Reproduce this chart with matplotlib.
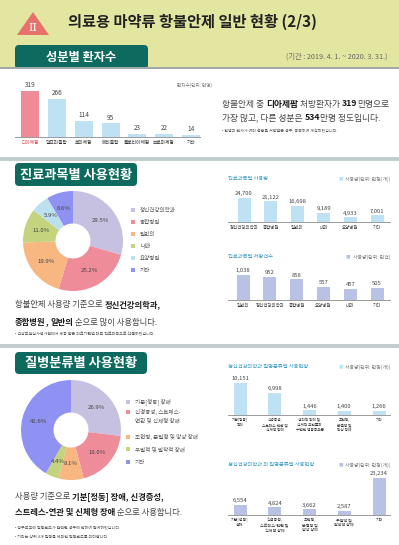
import numpy as np
import matplotlib
matplotlib.use("Agg")
import matplotlib.pyplot as plt
from matplotlib.patches import Rectangle, FancyBboxPatch, Polygon

plt.rcParams['font.family'] = ['Noto Sans CJK KR', 'DejaVu Sans']

# ---- data ----
ingredient_names = ['디아제팜', '알프라졸람', '로라제팜', '에티졸람', '클로티아제팜', '브로마제팜', '기타']
ingredient_patients = [319, 266, 114, 95, 23, 22, 14]

dept_share_labels = ['정신건강의학과', '종합병원', '일반의', '내과', '요양병원', '기타']
dept_share = [29.5, 25.2, 19.9, 11.0, 5.9, 8.6]

dept_usage_names = ['정신건강의학과', '종합병원', '일반의', '내과', '요양병원', '기타']
dept_usage = [24700, 21122, 16698, 9189, 4933, 7001]

dept_rx_names = ['일반의', '정신건강의학과', '종합병원', '요양병원', '내과', '기타']
dept_rx = [1038, 952, 858, 557, 457, 505]

disease_share_labels = ['기분[정동] 장애', '신경증성, 스트레스-\n연관 및 신체형 장애',
                        '조현병, 분열형 및 망상 장애', '우발적 및 발작적 장애', '기타']
disease_share = [26.9, 19.0, 8.1, 4.4, 41.6]

psy_names = ['기분[정동]\n장애', '신경증성,\n스트레스-연관 및\n신체형 장애',
             '생리적 장애 및\n신체적 요인들과\n수반된 행동증후군', '조현병,\n분열형 및\n망상 장애', '기타']
psy_usage = [10151, 6998, 1446, 1400, 1266]

nonpsy_names = ['기분[정동]\n장애', '신경증성,\n스트레스-연관 및\n신체형 장애',
                '조현병,\n분열형 및\n망상 장애', '우발적 및\n발작적 장애', '기타']
nonpsy_usage = [6554, 4824, 3662, 2587, 23234]

# ---- styles ----
W, H = 399, 545
HEADER_BG = '#e3e6a1'
TEAL = '#0e6a5e'
LIGHT_BLUE = '#bfe1f4'
LAVENDER = '#b7c2e4'
PINK = '#ef8b99'
TITLE_BLUE = '#3d9cc6'
donut_colors = ['#c6c1e0', '#ee8c99', '#f8b680', '#c4d37d', '#bde0ef', '#8f92f2']
disease_colors = ['#c6c1e0', '#ee8c99', '#f8b680', '#c4d37d', '#8f92f2']


def px_rect(x, y, w, h):
    return [x / W, 1 - (y + h) / H, w / W, h / H]


def rich(ax, x, y, parts, size, color='#444', bold_color='#1a1a1a'):
    t = None
    for s, b in parts:
        kw = dict(fontsize=size, fontweight='bold' if b else 'normal',
                  color=bold_color if b else color)
        if t is None:
            t = ax.text(x, y, s, ha='left', va='center', **kw)
        else:
            t = ax.annotate(s, xy=(1, 0.5), xycoords=t, ha='left', va='center', **kw)


def tab(ax, x, y, w, h, label, size):
    ax.add_patch(FancyBboxPatch((x, y), w, h, boxstyle='round,pad=0,rounding_size=4',
                                fc=TEAL, ec='none'))
    ax.text(x + w / 2, y + h / 2, label, ha='center', va='center', color='white',
            fontsize=size, fontweight='bold')


def bar_panel(fig, values, names, color, left, right, first, last, base, top,
              bar_px, label_size=3.2, value_size=4.2, label_colors=None):
    n = len(values)
    step = (last - first) / (n - 1)
    head = 12
    ax = fig.add_axes(px_rect(left, top - head, right - left, base - top + head))
    ax.patch.set_alpha(0)
    bars = ax.bar(range(n), values, width=bar_px / step, color=color)
    ax.set_xlim((left - first) / step, (right - first) / step)
    ax.set_ylim(0, max(values) * (base - top + head) / (base - top))
    ax.bar_label(bars, labels=[f'{v:,}' for v in values], padding=1.2,
                 fontsize=value_size, color='#444')
    for s in ['top', 'left', 'right']:
        ax.spines[s].set_visible(False)
    ax.spines['bottom'].set_color('#9a9a9a')
    ax.spines['bottom'].set_linewidth(0.7)
    ax.set_yticks([])
    ax.set_xticks(range(n), names, fontsize=label_size, color='#333', linespacing=1.35)
    ax.tick_params(axis='x', length=0, pad=2)
    if label_colors:
        for tl, c in zip(ax.get_xticklabels(), label_colors):
            tl.set_color(c)
    return ax


def donut(fig, cx, cy, r, values, colors):
    ax = fig.add_axes(px_rect(cx - r, cy - r, 2 * r, 2 * r))
    ax.pie(values, colors=colors, startangle=90, counterclock=False, radius=1,
           autopct='%.1f%%', pctdistance=0.68,
           wedgeprops=dict(width=0.65, linewidth=0),
           textprops=dict(fontsize=4.3, color='#444'))
    ax.set_xlim(-1, 1)
    ax.set_ylim(-1, 1)
    return ax


fig = plt.figure(figsize=(W / 100, H / 100), dpi=100)
fig.patch.set_facecolor('white')
bg = fig.add_axes([0, 0, 1, 1])
bg.set_xlim(0, W)
bg.set_ylim(H, 0)
bg.axis('off')

# header
bg.add_patch(Rectangle((0, 0), W, 67, fc=HEADER_BG, ec='none'))
bg.add_patch(Polygon([(17, 35), (33, 12), (49, 35)], closed=True, fc='#e8716b', ec='none'))
bg.text(33, 28, 'II', ha='center', va='center', color='white', fontsize=8,
        family='DejaVu Serif')
bg.text(68, 22, '의료용 마약류 항불안제 일반 현황 (2/3)', ha='left', va='center',
        fontsize=11, fontweight='bold', color='#222')
tab(bg, 15, 45, 133, 24, '성분별 환자수', 8.8)
bg.add_patch(Rectangle((0, 67), W, 2, fc='#a3a8a8', ec='none'))
bg.text(387, 57, '(기간 : 2019. 4. 1. ~ 2020. 3. 31.)', ha='right', va='center',
        fontsize=5.2, color='#666')

# separators
bg.add_patch(Rectangle((0, 157), W, 4, fc='#c3cdd0', ec='none'))
bg.add_patch(Rectangle((0, 344), W, 4, fc='#c3cdd0', ec='none'))

# section 1
bg.text(212, 85, '환자수(단위: 만명)', ha='right', va='center', fontsize=3.3, color='#777')
bar_panel(fig, ingredient_patients, ingredient_names, [PINK] + [LIGHT_BLUE] * 6,
          15, 200, 30, 191, 137, 91, 18, label_size=3.4, value_size=4.6,
          label_colors=['#e0404e'] + ['#333'] * 6)
rich(bg, 222, 104, [('항불안제 중 ', 0), ('디아제팜', 1), (' 처방환자가 ', 0),
                    ('319', 1), ('만명으로', 0)], 6.3)
rich(bg, 222, 118, [('가장 많고, 다른 성분은 ', 0), ('534', 1), ('만명 정도입니다.', 0)], 6.3)
bg.text(222, 131, '• 한명의 환자가 여러 성분을 처방받은 경우, 중복하여 계산하였습니다.',
        ha='left', va='center', fontsize=2.9, color='#555')

# section 2
tab(bg, 15, 163, 122, 23, '진료과목별 사용현황', 9.5)
donut(fig, 73, 241, 50, dept_share, donut_colors)
for i, (lab, c) in enumerate(zip(dept_share_labels, donut_colors)):
    yy = 210 + 12 * i
    bg.add_patch(Rectangle((131, yy - 2), 4, 4, fc=c, ec='none'))
    bg.text(140, yy, lab, ha='left', va='center', fontsize=4, color='#555')
rich(bg, 15, 305, [('항불안제 사용량 기준으로 ', 0), ('정신건강의학과,', 1)], 6.0)
rich(bg, 15, 322, [('종합병원', 1), (', ', 1), ('일반의', 1), (' 순으로 많이 사용합니다.', 0)], 6.0)
bg.text(15, 334, '• 건강보험심사평가원에서 제공 받은 의료기관별 대표 진료과목으로 산출하였습니다.',
        ha='left', va='center', fontsize=2.9, color='#555')


def panel_head(y, title, unit, color):
    bg.text(228, y, title, ha='left', va='center', fontsize=3.8, color=TITLE_BLUE)
    u = bg.text(390, y, unit, ha='right', va='center', fontsize=3.5, color='#777')
    bg.annotate('■', xy=(0, 0.5), xycoords=u, xytext=(-1.5, 0), textcoords='offset points',
                ha='right', va='center', fontsize=3.3, color=color)


panel_head(179, '진료과목별 사용량', '사용량(단위: 만정(개))', LIGHT_BLUE)
bar_panel(fig, dept_usage, dept_usage_names, LIGHT_BLUE, 228, 390, 244, 377, 222, 198, 13)
panel_head(257, '진료과목별 처방건수', '사용량(단위: 만건)', LAVENDER)
bar_panel(fig, dept_rx, dept_rx_names, LAVENDER, 228, 390, 243, 377, 300, 275, 13)

# section 3
tab(bg, 15, 352, 132, 22, '질병분류별 사용현황', 9.5)
donut(fig, 71, 430, 50, disease_share, disease_colors)
legend_y = [402, 416, 437, 449, 462]
for lab, c, yy in zip(disease_share_labels, disease_colors, legend_y):
    bg.add_patch(Rectangle((126, yy - 2 - (4 if '\n' in lab else 0)), 4, 4, fc=c, ec='none'))
    bg.text(135, yy, lab, ha='left', va='center', fontsize=4, color='#555', linespacing=1.6)
rich(bg, 15, 497, [('사용량 기준으로 ', 0), ('기분[정동] 장애, 신경증성,', 1)], 6.0)
rich(bg, 15, 513, [('스트레스-연관 및 신체형 장애', 1), (' 순으로 사용합니다.', 0)], 6.0)
bg.text(15, 527, '• 청구보고에 질병코드가 입력된 경우에 한하여 집계하였습니다.',
        ha='left', va='center', fontsize=2.9, color='#555')
bg.text(15, 537, '• 기타는 상위 4개 질병을 제외한 질병코드를 의미합니다.',
        ha='left', va='center', fontsize=2.9, color='#555')

panel_head(367, '정신건강의학과 질병분류별 사용현황', '사용량(단위: 만정(개))', LIGHT_BLUE)
bar_panel(fig, psy_usage, psy_names, LIGHT_BLUE, 228, 390, 240, 379, 415, 383, 13,
          label_size=2.7)
panel_head(465, '정신건강의학과 외 질병분류별 사용현황', '사용량(단위: 만정(개))', LAVENDER)
bar_panel(fig, nonpsy_usage, nonpsy_names, LAVENDER, 228, 390, 240, 379, 515, 478, 13,
          label_size=2.9)

fig.savefig('out.png', dpi=100, facecolor='white')
